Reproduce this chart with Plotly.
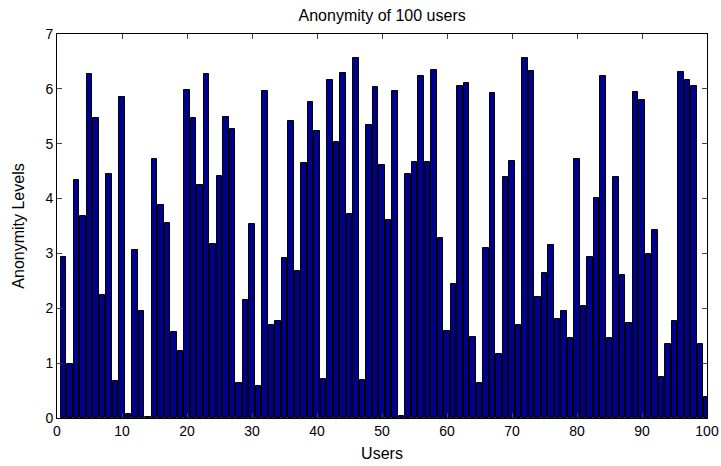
import plotly.graph_objects as go

users = list(range(1, 101))
anonymity = [
    2.93, 0.98, 4.33, 3.68, 6.28, 5.47, 2.25, 4.45, 0.68, 5.86,
    0.08, 3.06, 1.95, 0.02, 4.73, 3.89, 3.56, 1.57, 1.22, 5.98,
    5.46, 4.25, 6.27, 3.17, 4.41, 5.48, 5.26, 0.64, 2.16, 3.54,
    0.59, 5.96, 1.70, 1.76, 2.91, 5.42, 2.68, 4.65, 5.76, 5.23,
    0.71, 6.17, 5.04, 6.29, 3.71, 6.56, 0.69, 5.34, 6.03, 4.61,
    3.61, 5.97, 0.04, 4.44, 4.67, 6.23, 4.67, 6.34, 3.29, 1.59,
    2.45, 6.05, 6.11, 1.48, 0.64, 3.09, 5.92, 1.16, 4.40, 4.69,
    1.70, 6.57, 6.32, 2.21, 2.64, 3.15, 1.80, 1.95, 1.46, 4.73,
    2.04, 2.94, 4.01, 6.24, 1.46, 4.40, 2.61, 1.73, 5.95, 5.80,
    2.99, 3.42, 0.74, 1.34, 1.77, 6.31, 6.16, 6.06, 1.35, 0.39,
]
x_ticks = list(range(0, 101, 10))
y_ticks = list(range(0, 8))

FONT = "Liberation Sans, Arial, Helvetica, sans-serif"

fig = go.Figure(go.Bar(
    x=users, y=anonymity, width=0.9,
    marker=dict(color="#00008F", line=dict(color="black", width=1)),
))

fig.update_layout(
    width=721, height=466,
    margin=dict(l=57, r=14, t=34, b=48, autoexpand=False),
    paper_bgcolor="white", plot_bgcolor="white",
    font=dict(family=FONT, size=14, color="black"),
    title=dict(text="Anonymity of 100 users", x=0.53, xanchor="center",
               y=0.966, yanchor="middle", font=dict(size=16)),
    showlegend=False,
    bargap=0,
)
fig.update_xaxes(
    range=[0, 100], tickvals=x_ticks, ticks="inside", ticklen=5,
    showline=True, linecolor="black", linewidth=1, mirror="ticks",
    showgrid=False, zeroline=False, automargin=False,
    title=dict(text="Users", font=dict(size=16), standoff=10),
)
fig.update_yaxes(
    range=[0, 7], tickvals=y_ticks, ticks="inside", ticklen=5,
    showline=True, linecolor="black", linewidth=1, mirror="ticks",
    showgrid=False, zeroline=False, automargin=False,
    title=dict(text="Anonymity Levels", font=dict(size=16), standoff=16),
)

fig.write_html(
    "out.html",
    config={"displayModeBar": False},
    post_script="document.body.style.margin='0';document.body.style.overflow='hidden';",
)
